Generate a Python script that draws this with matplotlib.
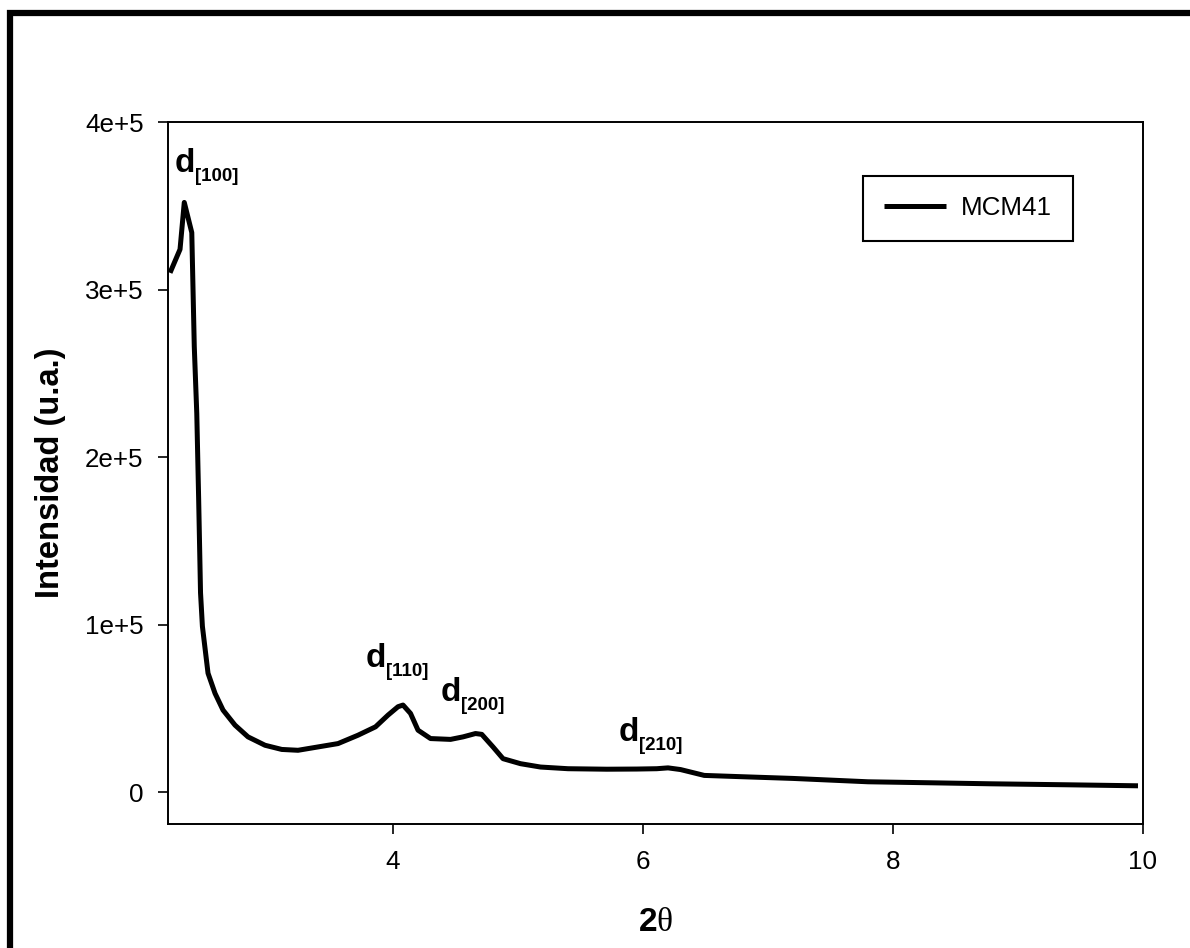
import matplotlib
matplotlib.use("Agg")
import matplotlib.pyplot as plt
from matplotlib.patches import Rectangle

plt.rcParams["font.family"] = ["Liberation Sans", "DejaVu Sans"]
plt.rcParams["mathtext.fontset"] = "custom"
plt.rcParams["mathtext.rm"] = "Liberation Serif"
plt.rcParams["mathtext.bf"] = "Liberation Sans:bold"

# difractograma de bajo ángulo, MCM41
two_theta = [2.216, 2.296, 2.33, 2.39, 2.41, 2.43, 2.445, 2.46, 2.475, 2.52,
             2.576, 2.64, 2.736, 2.84, 2.976, 3.11, 3.24, 3.40, 3.56, 3.72,
             3.86, 3.96, 4.04, 4.08, 4.14, 4.20, 4.30, 4.46, 4.56, 4.66,
             4.71, 4.80, 4.88, 5.02, 5.18, 5.40, 5.71, 5.95, 6.11, 6.20,
             6.30, 6.49, 6.80, 7.20, 7.80, 8.30, 8.78, 9.40, 9.96]
intensidad = [3.10, 3.24, 3.52, 3.34, 2.66, 2.26, 1.75, 1.19, 0.99, 0.71,
              0.59, 0.49, 0.40, 0.33, 0.28, 0.255, 0.25, 0.27, 0.29, 0.34,
              0.39, 0.46, 0.51, 0.52, 0.47, 0.37, 0.32, 0.315, 0.33, 0.35,
              0.345, 0.27, 0.20, 0.17, 0.15, 0.14, 0.137, 0.138, 0.14, 0.145,
              0.135, 0.10, 0.092, 0.082, 0.062, 0.056, 0.050, 0.044, 0.038]
intensidad = [v * 1e5 for v in intensidad]

serie = "MCM41"
x_ticks = [4, 6, 8, 10]
y_ticks = [0, 1e5, 2e5, 3e5, 4e5]
y_ticklabels = ["0", "1e+5", "2e+5", "3e+5", "4e+5"]

# reflexiones indexadas (posición del texto en datos)
picos = ["[100]", "[110]", "[200]", "[210]"]
picos_x = [2.256, 3.784, 4.384, 5.806]
picos_y = [3.70e5, 0.746e5, 0.543e5, 0.304e5]

fig = plt.figure(figsize=(11.9, 9.48), dpi=100)
ax = fig.add_axes([0.1412, 0.1308, 0.8193, 0.7405])

ax.plot(two_theta, intensidad, color="black", lw=3.6, label=serie,
        solid_joinstyle="round", solid_capstyle="butt")

ax.set_xlim(2.2, 10)
ax.set_ylim(-0.19e5, 4e5)
ax.set_xticks(x_ticks)
ax.set_yticks(y_ticks)
ax.set_yticklabels(y_ticklabels)
ax.tick_params(axis="both", direction="out", length=7.5, width=1.2,
               labelsize=18.7, color="black")
ax.tick_params(axis="x", pad=11)
ax.tick_params(axis="y", pad=10)
for s in ax.spines.values():
    s.set_linewidth(1.4)

ax.set_xlabel(r"$\mathbf{2}\mathrm{\theta}$", fontsize=24)
ax.xaxis.set_label_coords(0.5, -0.118)
ax.set_ylabel("Intensidad (u.a.)", fontsize=23.5, fontweight="bold")
ax.yaxis.set_label_coords(-0.105, 0.5)

for lab, px, py in zip(picos, picos_x, picos_y):
    ax.text(px, py, "d", fontsize=24, fontweight="bold", ha="left", va="baseline")
    ax.annotate(lab, xy=(px, py), xytext=(14.5, -6.5), textcoords="offset points",
                fontsize=13.5, fontweight="bold", ha="left", va="baseline")

leg = ax.legend(loc="upper left", bbox_to_anchor=(0.7128, 0.9235),
                borderaxespad=0, fontsize=18.7, handlelength=2.38,
                handletextpad=0.6, borderpad=0.8, fancybox=False,
                framealpha=1, edgecolor="black")
leg.get_frame().set_linewidth(1.5)

# marco grueso de la figura
fig.add_artist(Rectangle((10 / 1190, -0.2), 1.3, 1 - 13 / 948 + 0.2,
                         transform=fig.transFigure, fill=False,
                         edgecolor="black", lw=4.5, clip_on=False))

fig.savefig("out.png", dpi=100, facecolor="white")
